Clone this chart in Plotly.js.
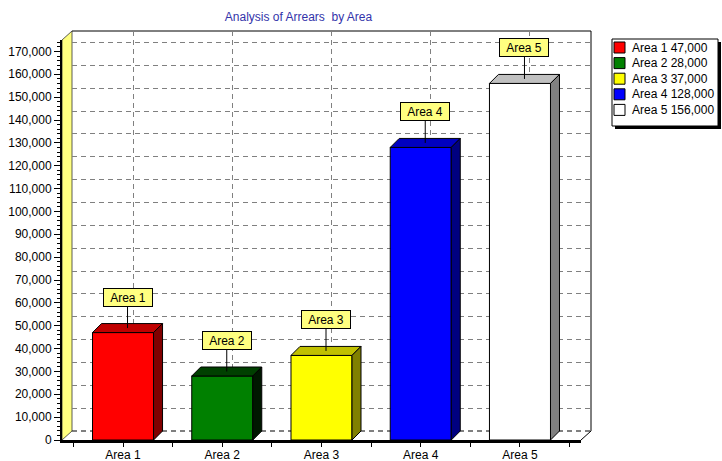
<!DOCTYPE html>
<html>
<head>
<meta charset="utf-8">
<script src="https://cdn.plot.ly/plotly-3.0.1.min.js"></script>
<style>html,body{margin:0;padding:0;background:#fff;}#chart{width:722px;height:461px;}</style>
</head>
<body>
<div id="chart"></div>
<script>
// ---- data ----
const categories = ['Area 1', 'Area 2', 'Area 3', 'Area 4', 'Area 5'];
const values = [47000, 28000, 37000, 128000, 156000];
const frontColors = ['#ff0000', '#008000', '#ffff00', '#0000ff', '#ffffff'];
const topColors = ['#c00000', '#004000', '#c0c000', '#0000c0', '#c0c0c0'];
const sideColors = ['#800000', '#001800', '#808000', '#000080', '#808080'];
const yTicks = [0, 10000, 20000, 30000, 40000, 50000, 60000, 70000, 80000, 90000,
  100000, 110000, 120000, 130000, 140000, 150000, 160000, 170000];
const titleText = 'Analysis of Arrears  by Area';

// ---- geometry ----
const W = 722, H = 461;
const L = 62, R = 131, T = 31, B = 21;
const PW = W - L - R, PH = H - T - B;
const DX = 10, DY = 9;       // depth of walls / back plane (px)
const BDX = 9, BDY = 9;      // depth of bars (px)
const fx = DX / PW, fy = DY / PH;
const xRange = [0.385, 5.615];
const yRange = [0, 175000];
const barW = 0.615;
const dxd = BDX * (xRange[1] - xRange[0]) / (PW - DX);
const dyd = BDY * (yRange[1] - yRange[0]) / (PH - DY);
const px = x => (x - L) / PW;
const py = y => (H - B - y) / PH;
const FONT = 'Liberation Sans, Arial, sans-serif';

const xs = categories.map((c, i) => i + 1);

const traces = [
  { type: 'scatter', x: [], y: [], xaxis: 'x', yaxis: 'y', hoverinfo: 'skip', showlegend: false },
  {
    type: 'bar', x: xs, y: values, width: barW, xaxis: 'x2', yaxis: 'y2',
    marker: { color: frontColors, line: { color: '#000', width: 1 } },
    hoverinfo: 'skip', showlegend: false
  }
];

const shapes = [];
// left wall
shapes.push({
  type: 'path', xref: 'paper', yref: 'paper', layer: 'below',
  path: `M0,0 L0,${1 - fy} L${fx},1 L${fx},${fy} Z`,
  fillcolor: '#ffff80', line: { color: '#333', width: 0.8 }
});
// back wall outline (top & right)
shapes.push({
  type: 'path', xref: 'paper', yref: 'paper', layer: 'below',
  path: `M${fx},1 L1,1 L1,${fy}`,
  line: { color: '#000', width: 1 }
});
// floor back edge (dashed)
shapes.push({
  type: 'line', xref: 'paper', yref: 'paper', layer: 'below',
  x0: fx, x1: 1, y0: fy, y1: fy,
  line: { color: '#000', width: 1, dash: '5px,4px' }
});
// floor right edge
shapes.push({
  type: 'line', xref: 'paper', yref: 'paper', layer: 'below',
  x0: 1 - fx, x1: 1, y0: 0, y1: fy,
  line: { color: '#000', width: 1 }
});

// 3D faces for bars
xs.forEach((c, i) => {
  const v = values[i];
  const xl = c - barW / 2, xr = c + barW / 2;
  shapes.push({
    type: 'path', xref: 'x2', yref: 'y2', layer: 'above',
    path: `M${xl},${v} L${xl + dxd},${v + dyd} L${xr + dxd},${v + dyd} L${xr},${v} Z`,
    fillcolor: topColors[i], line: { color: '#000', width: 1 }
  });
  shapes.push({
    type: 'path', xref: 'x2', yref: 'y2', layer: 'above',
    path: `M${xr},0 L${xr + dxd},${dyd} L${xr + dxd},${v + dyd} L${xr},${v} Z`,
    fillcolor: sideColors[i], line: { color: '#000', width: 1 }
  });
});

// legend (custom)
const legTop = 39, legBottom = 126, legLeft = 612, legRight = 718;
shapes.push({
  type: 'rect', xref: 'paper', yref: 'paper', layer: 'above',
  x0: px(legLeft + 3), x1: px(legRight + 3), y0: py(legBottom + 3), y1: py(legTop + 3),
  fillcolor: '#000', line: { width: 0 }
});
shapes.push({
  type: 'rect', xref: 'paper', yref: 'paper', layer: 'above',
  x0: px(legLeft), x1: px(legRight), y0: py(legBottom), y1: py(legTop),
  fillcolor: '#fff', line: { color: '#000', width: 1 }
});

const annotations = [];
const rowY0 = 47.5, rowStep = 15.6;
categories.forEach((c, i) => {
  const yc = rowY0 + i * rowStep;
  shapes.push({
    type: 'rect', xref: 'paper', yref: 'paper', layer: 'above',
    x0: px(614), x1: px(625), y0: py(yc + 5.5), y1: py(yc - 5.5),
    fillcolor: frontColors[i], line: { color: '#000', width: 1 }
  });
  annotations.push({
    xref: 'paper', yref: 'paper', x: px(630), y: py(yc),
    xanchor: 'left', yanchor: 'middle', showarrow: false,
    text: c + ' ' + values[i].toLocaleString('en-US'),
    font: { family: FONT, size: 12, color: '#000' }
  });
});

// bar callout labels
xs.forEach((c, i) => {
  annotations.push({
    xref: 'x2', yref: 'y2', x: c, y: values[i],
    xshift: BDX / 2, yshift: BDY / 2,
    ax: 0, ay: -31, showarrow: true, arrowhead: 0, arrowwidth: 1, arrowcolor: '#000',
    text: categories[i], bgcolor: '#ffff80', bordercolor: '#000', borderwidth: 1,
    borderpad: 2, width: 44, height: 13,
    font: { family: FONT, size: 12, color: '#000' }
  });
});

const layout = {
  width: W, height: H,
  margin: { l: L, r: R, t: T, b: B, pad: 0 },
  paper_bgcolor: '#ffffff', plot_bgcolor: 'rgba(0,0,0,0)',
  showlegend: false,
  font: { family: FONT, size: 12, color: '#000' },
  title: {
    text: titleText, xref: 'container', yref: 'container',
    x: 298.5 / W, y: 1 - 17 / H, xanchor: 'center', yanchor: 'middle',
    font: { family: FONT, size: 12, color: '#3333aa' }
  },
  // back plane (grid only)
  xaxis: {
    domain: [fx, 1], range: xRange, anchor: 'y',
    tickmode: 'array', tickvals: xs, showticklabels: false, ticks: '',
    showgrid: true, gridcolor: '#808080', gridwidth: 1, griddash: '5px,4px',
    zeroline: false, showline: false, fixedrange: true
  },
  yaxis: {
    domain: [fy, 1], range: yRange, anchor: 'x',
    tickmode: 'array', tickvals: yTicks.slice(1), showticklabels: false, ticks: '',
    showgrid: true, gridcolor: '#808080', gridwidth: 1, griddash: '5px,4px',
    zeroline: false, showline: false, fixedrange: true
  },
  // front plane (bars, axes)
  xaxis2: {
    domain: [0, 1 - fx], range: xRange, anchor: 'y2',
    tickmode: 'array', tickvals: xs, ticktext: categories,
    ticks: 'outside', ticklen: 4, tickcolor: '#000', tickwidth: 1,
    ticklabelstandoff: -2,
    showgrid: false, zeroline: false,
    showline: true, linecolor: '#000', linewidth: 2.5,
    tickfont: { family: FONT, size: 12, color: '#000' },
    minor: { tickmode: 'array', tickvals: [0.5, 1.5, 2.5, 3.5, 4.5, 5.5], ticks: 'outside', ticklen: 4, tickcolor: '#000', showgrid: false },
    fixedrange: true
  },
  yaxis2: {
    domain: [0, 1 - fy], range: yRange, anchor: 'x2',
    tickmode: 'array', tickvals: yTicks, ticktext: yTicks.map(v => v.toLocaleString('en-US')),
    ticks: 'outside', ticklen: 6, tickcolor: '#000', tickwidth: 1,
    showgrid: false, zeroline: false,
    showline: true, linecolor: '#000', linewidth: 2,
    tickfont: { family: FONT, size: 12, color: '#000' },
    minor: { dtick: 2000, ticks: 'outside', ticklen: 3, tickcolor: '#000', showgrid: false },
    fixedrange: true
  },
  shapes: shapes,
  annotations: annotations
};

Plotly.newPlot('chart', traces, layout, { displayModeBar: false, staticPlot: true });
</script>
</body>
</html>
